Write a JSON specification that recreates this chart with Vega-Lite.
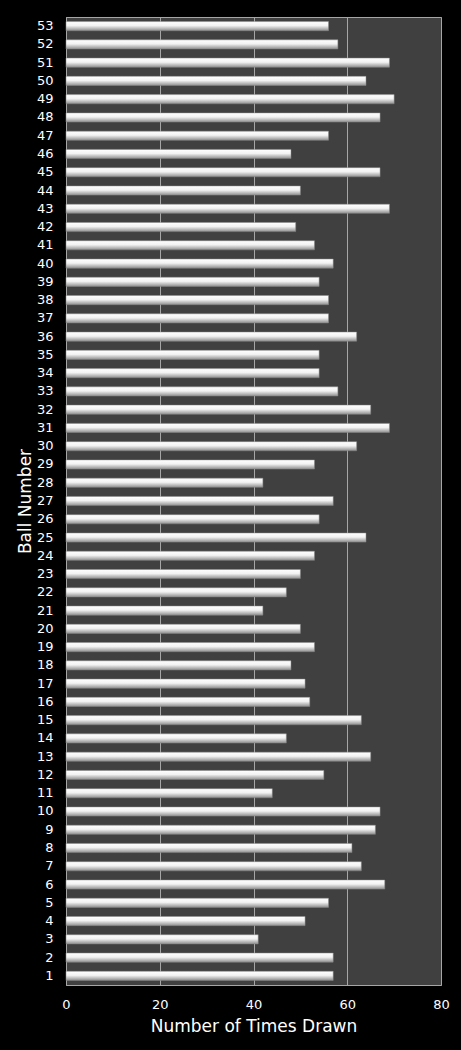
{
  "$schema": "https://vega.github.io/schema/vega-lite/v6.json",
  "width": 375,
  "height": 968,
  "autosize": {"type": "none"},
  "padding": {"left": 66, "top": 17, "right": 20, "bottom": 65},
  "background": "#000000",
  "data": {
    "values": [
      {"ball": 1, "drawn": 57}, {"ball": 2, "drawn": 57}, {"ball": 3, "drawn": 41},
      {"ball": 4, "drawn": 51}, {"ball": 5, "drawn": 56}, {"ball": 6, "drawn": 68},
      {"ball": 7, "drawn": 63}, {"ball": 8, "drawn": 61}, {"ball": 9, "drawn": 66},
      {"ball": 10, "drawn": 67}, {"ball": 11, "drawn": 44}, {"ball": 12, "drawn": 55},
      {"ball": 13, "drawn": 65}, {"ball": 14, "drawn": 47}, {"ball": 15, "drawn": 63},
      {"ball": 16, "drawn": 52}, {"ball": 17, "drawn": 51}, {"ball": 18, "drawn": 48},
      {"ball": 19, "drawn": 53}, {"ball": 20, "drawn": 50}, {"ball": 21, "drawn": 42},
      {"ball": 22, "drawn": 47}, {"ball": 23, "drawn": 50}, {"ball": 24, "drawn": 53},
      {"ball": 25, "drawn": 64}, {"ball": 26, "drawn": 54}, {"ball": 27, "drawn": 57},
      {"ball": 28, "drawn": 42}, {"ball": 29, "drawn": 53}, {"ball": 30, "drawn": 62},
      {"ball": 31, "drawn": 69}, {"ball": 32, "drawn": 65}, {"ball": 33, "drawn": 58},
      {"ball": 34, "drawn": 54}, {"ball": 35, "drawn": 54}, {"ball": 36, "drawn": 62},
      {"ball": 37, "drawn": 56}, {"ball": 38, "drawn": 56}, {"ball": 39, "drawn": 54},
      {"ball": 40, "drawn": 57}, {"ball": 41, "drawn": 53}, {"ball": 42, "drawn": 49},
      {"ball": 43, "drawn": 69}, {"ball": 44, "drawn": 50}, {"ball": 45, "drawn": 67},
      {"ball": 46, "drawn": 48}, {"ball": 47, "drawn": 56}, {"ball": 48, "drawn": 67},
      {"ball": 49, "drawn": 70}, {"ball": 50, "drawn": 64}, {"ball": 51, "drawn": 69},
      {"ball": 52, "drawn": 58}, {"ball": 53, "drawn": 56}
    ]
  },
  "mark": {
    "type": "bar",
    "stroke": "#8a8a8a",
    "strokeWidth": 0.5,
    "color": {
      "gradient": "linear",
      "x1": 0, "y1": 0, "x2": 0, "y2": 1,
      "stops": [
        {"offset": 0, "color": "#ffffff"},
        {"offset": 0.45, "color": "#f2f2f2"},
        {"offset": 1, "color": "#8f8f8f"}
      ]
    }
  },
  "encoding": {
    "y": {
      "field": "ball",
      "type": "ordinal",
      "sort": "descending",
      "scale": {"paddingInner": 0.5, "paddingOuter": 0.25},
      "title": "Ball Number",
      "axis": {
        "domain": true,
        "domainColor": "#a6a6a6",
        "ticks": false,
        "labelPadding": 13,
        "labelColor": "#ffffff",
        "labelFont": "DejaVu Sans",
        "labelFontSize": 13,
        "titleColor": "#ffffff",
        "titleFont": "DejaVu Sans",
        "titleFontSize": 17,
        "titleFontWeight": "normal",
        "titlePadding": 2
      }
    },
    "x": {
      "field": "drawn",
      "type": "quantitative",
      "scale": {"domain": [0, 80]},
      "title": "Number of Times Drawn",
      "axis": {
        "values": [0, 20, 40, 60, 80],
        "domain": false,
        "ticks": false,
        "grid": true,
        "gridColor": "#a6a6a6",
        "gridWidth": 1,
        "labelFlush": false,
        "labelPadding": 13,
        "labelColor": "#ffffff",
        "labelFont": "DejaVu Sans",
        "labelFontSize": 13,
        "titleColor": "#ffffff",
        "titleFont": "DejaVu Sans",
        "titleFontSize": 17,
        "titleFontWeight": "normal",
        "titlePadding": 7
      }
    }
  },
  "config": {
    "view": {"fill": "#404040", "stroke": "#a6a6a6", "strokeWidth": 1}
  }
}
